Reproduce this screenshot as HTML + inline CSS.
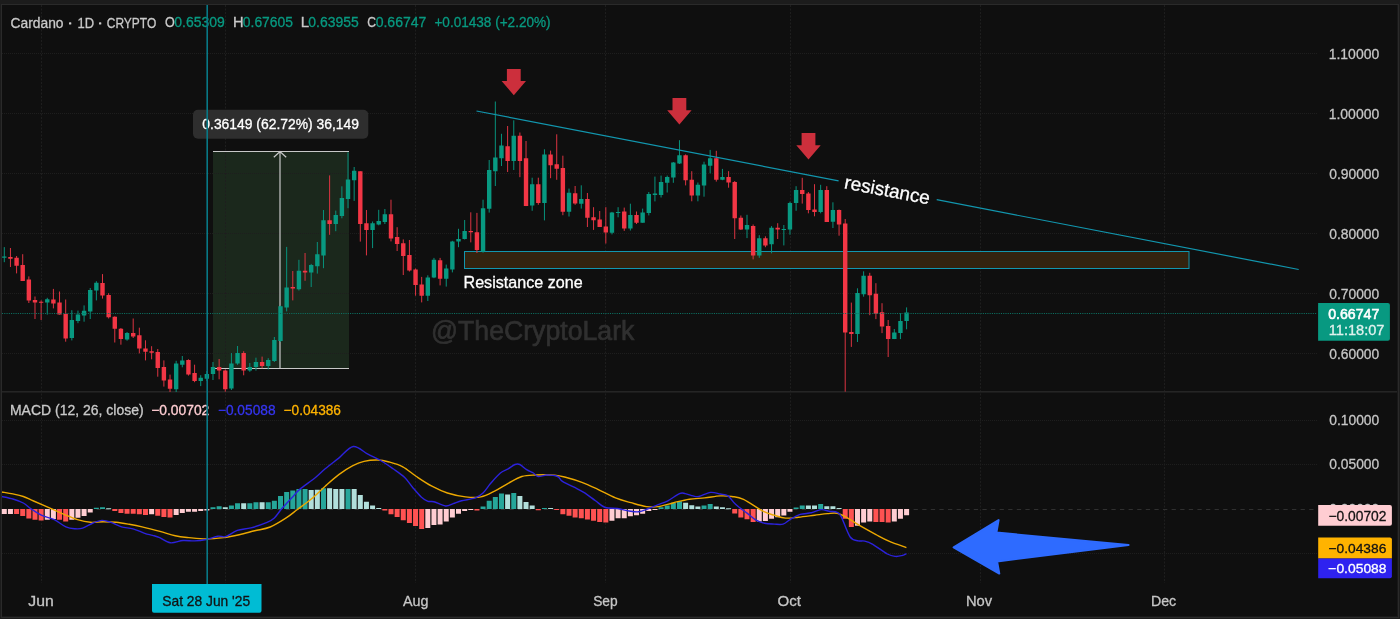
<!DOCTYPE html><html><head><meta charset="utf-8"><style>
html,body{margin:0;padding:0;width:1400px;height:619px;overflow:hidden;background:#232323;}
svg{display:block;will-change:transform;} text{font-family:"Liberation Sans", sans-serif;}
</style></head><body>
<svg width="1400" height="619" viewBox="0 0 1400 619">
<rect x="0" y="0" width="1400" height="619" fill="#1c1c1c"/>
<rect x="1" y="4" width="1398" height="614" fill="#2a2a2a"/>
<rect x="2" y="5" width="1396" height="612" fill="#181818"/>
<rect x="2" y="5" width="1395" height="611" fill="#0F0F0F"/>
<rect x="213" y="151" width="136" height="217" fill="#1b281c"/>
<path d="M2 53.5H1317M2 113.5H1317M2 173.5H1317M2 233.5H1317M2 293.5H1317M2 353.5H1317M2 420.5H1317M2 464.5H1317M2 553.5H1317" stroke="#1e1e1e" stroke-width="1" stroke-dasharray="1 1" fill="none"/>
<path d="M41.5 5V583M225.5 5V583M415.5 5V583M605.5 5V583M790.5 5V583M980.5 5V583M1164.5 5V583" stroke="#1e1e1e" stroke-width="1" stroke-dasharray="2 1.5" fill="none"/>
<rect x="2" y="391" width="1395" height="1.6" fill="#252525"/>
<path d="M2 509.5H1317" stroke="#303030" stroke-width="1" stroke-dasharray="4.3 4.3" fill="none"/>
<path d="M213 151.5H349M213 368.5H349M280 152V368M273.8 157.2L280 151.6L286.2 157.2" stroke="#c8c8c8" stroke-width="1.2" fill="none"/>
<rect x="464.5" y="251.5" width="724.5" height="17" fill="#33230f" stroke="#1296ae" stroke-width="1"/>
<path d="M4.30 247.10V262.20M47.27 297.80V314.60M71.82 310.20V340.40M77.96 310.60V323.20M84.09 305.40V321.70M90.23 288.00V319.00M96.37 281.20V300.40M127.06 332.00V340.70M176.16 360.80V392.00M182.30 356.00V367.30M200.72 375.20V386.10M206.85 371.00V381.00M212.99 362.00V380.00M231.41 353.00V390.00M237.54 346.00V364.80M249.82 363.00V371.80M255.96 357.70V370.60M268.23 358.20V369.40M274.37 337.00V362.00M280.51 305.70V341.80M286.65 246.90V311.40M298.92 259.80V290.50M311.20 263.90V287.00M317.34 242.00V273.60M323.48 210.00V268.20M335.75 210.60V231.20M341.89 186.30V218.30M348.03 152.40V208.20M354.17 167.00V200.90M372.58 221.50V248.10M378.72 209.80V225.30M384.86 209.00V224.00M427.82 275.30V301.00M433.96 257.90V278.20M446.24 264.60V286.60M452.37 240.80V272.40M458.51 228.80V247.20M464.65 220.00V239.50M483.06 199.70V252.70M489.20 160.00V212.60M495.34 101.50V186.00M501.48 133.80V166.00M513.75 120.30V170.00M532.17 177.70V210.80M544.44 149.30V220.40M569.00 188.60V216.50M581.27 185.30V208.60M611.96 211.90V234.40M618.10 207.20V217.30M630.38 203.70V230.50M642.65 208.60V222.70M648.79 192.00V215.40M654.93 176.60V201.40M661.07 175.60V197.50M667.20 175.60V192.50M673.34 162.00V182.80M679.48 140.20V164.00M697.89 182.50V201.30M704.03 161.70V196.70M710.17 149.90V173.40M722.45 168.90V180.20M747.00 214.80V238.10M759.27 235.20V257.80M771.55 226.10V253.30M783.83 225.00V245.40M789.96 201.70V234.70M796.10 186.20V210.80M820.65 184.80V213.30M832.93 202.30V228.00M857.48 288.30V342.00M863.62 271.30V296.70M894.31 329.00V339.10M900.45 313.10V339.10M906.59 307.40V329.30" stroke="#08927C" stroke-width="1" fill="none"/>
<path d="M2.10 256.60h4.4v1.20h-4.4zM45.07 299.20h4.4v3.40h-4.4zM69.62 320.00h4.4v18.10h-4.4zM75.76 314.60h4.4v6.30h-4.4zM81.89 310.70h4.4v4.80h-4.4zM88.03 290.10h4.4v21.30h-4.4zM94.17 282.70h4.4v7.90h-4.4zM124.86 333.00h4.4v6.60h-4.4zM173.96 363.60h4.4v25.60h-4.4zM180.10 360.40h4.4v4.30h-4.4zM198.52 377.80h4.4v3.20h-4.4zM204.65 374.00h4.4v4.80h-4.4zM210.79 367.00h4.4v7.00h-4.4zM229.21 363.60h4.4v25.00h-4.4zM235.34 353.00h4.4v10.60h-4.4zM247.62 367.00h4.4v3.60h-4.4zM253.76 362.00h4.4v5.00h-4.4zM266.03 360.00h4.4v6.00h-4.4zM272.17 340.00h4.4v21.00h-4.4zM278.31 306.20h4.4v34.70h-4.4zM284.45 287.50h4.4v19.90h-4.4zM296.72 270.70h4.4v18.60h-4.4zM309.00 265.00h4.4v7.40h-4.4zM315.14 254.20h4.4v12.10h-4.4zM321.28 220.30h4.4v35.10h-4.4zM333.55 215.00h4.4v9.00h-4.4zM339.69 198.00h4.4v18.00h-4.4zM345.83 179.60h4.4v19.40h-4.4zM351.97 170.80h4.4v9.50h-4.4zM370.38 223.20h4.4v6.80h-4.4zM376.52 221.00h4.4v3.50h-4.4zM382.66 214.20h4.4v7.80h-4.4zM425.62 277.60h4.4v18.10h-4.4zM431.76 259.80h4.4v17.80h-4.4zM444.04 268.50h4.4v10.30h-4.4zM450.17 241.40h4.4v28.10h-4.4zM456.31 238.90h4.4v2.50h-4.4zM462.45 231.10h4.4v7.80h-4.4zM480.86 208.20h4.4v43.20h-4.4zM487.00 170.00h4.4v38.70h-4.4zM493.14 157.50h4.4v13.70h-4.4zM499.28 145.40h4.4v12.90h-4.4zM511.55 135.80h4.4v25.20h-4.4zM529.97 184.20h4.4v21.40h-4.4zM542.24 154.40h4.4v48.60h-4.4zM566.80 192.70h4.4v19.10h-4.4zM579.07 198.90h4.4v4.80h-4.4zM609.76 212.40h4.4v20.40h-4.4zM615.90 211.90h4.4v1.10h-4.4zM628.18 215.00h4.4v13.50h-4.4zM640.45 212.40h4.4v10.30h-4.4zM646.59 194.00h4.4v19.00h-4.4zM652.73 193.60h4.4v1.40h-4.4zM658.87 182.00h4.4v13.00h-4.4zM665.00 177.00h4.4v5.80h-4.4zM671.14 162.60h4.4v14.90h-4.4zM677.28 155.30h4.4v8.20h-4.4zM695.69 184.70h4.4v10.90h-4.4zM701.83 164.40h4.4v21.00h-4.4zM707.97 158.30h4.4v7.40h-4.4zM720.25 177.00h4.4v2.80h-4.4zM744.80 225.00h4.4v4.50h-4.4zM757.07 238.20h4.4v17.30h-4.4zM769.35 227.70h4.4v16.50h-4.4zM781.63 228.90h4.4v1.00h-4.4zM787.76 203.00h4.4v26.40h-4.4zM793.90 190.00h4.4v13.00h-4.4zM818.45 190.00h4.4v22.00h-4.4zM830.73 210.00h4.4v11.70h-4.4zM855.28 293.00h4.4v41.00h-4.4zM861.42 275.70h4.4v18.60h-4.4zM892.11 332.60h4.4v6.50h-4.4zM898.25 321.10h4.4v12.00h-4.4zM904.39 312.50h4.4v8.60h-4.4z" fill="#089981"/>
<path d="M10.44 248.00V267.00M16.58 256.00V273.40M22.71 254.20V280.90M28.85 276.40V303.00M34.99 296.50V319.00M41.13 300.40V320.00M53.40 288.90V308.40M59.54 291.50V314.60M65.68 299.50V341.70M102.51 274.10V298.60M108.65 293.20V318.50M114.78 316.30V342.50M120.92 328.00V344.70M133.20 318.50V338.00M139.34 327.70V353.40M145.47 340.30V360.40M151.61 346.20V359.30M157.75 349.00V376.70M163.89 360.40V386.60M170.03 374.60V392.00M188.44 359.30V375.60M194.58 364.70V382.20M219.13 359.00V379.30M225.27 369.40V391.70M243.68 351.20V375.30M262.10 356.60V368.30M292.79 271.00V300.40M305.06 253.00V280.80M329.61 175.40V234.80M360.30 171.30V241.60M366.44 210.00V255.40M390.99 199.70V241.40M397.13 227.20V251.00M403.27 239.40V275.00M409.41 240.00V271.50M415.55 268.50V295.70M421.68 276.90V302.40M440.10 257.90V285.40M470.79 212.30V242.40M476.93 212.90V253.00M507.62 126.00V172.00M519.89 132.50V177.20M526.03 141.00V206.10M538.31 177.70V204.80M550.58 150.60V178.20M556.72 134.30V179.80M562.86 155.70V215.20M575.13 186.00V204.80M587.41 193.00V227.00M593.55 207.20V229.90M599.69 211.00V227.00M605.82 207.20V243.50M624.24 207.60V230.90M636.51 211.50V224.00M685.62 154.40V185.40M691.76 171.20V201.30M716.31 150.80V181.60M728.58 171.20V187.70M734.72 181.00V239.00M740.86 215.50V230.00M753.14 224.50V259.40M765.41 236.30V247.20M777.69 223.20V239.00M802.24 177.80V203.60M808.38 192.00V213.30M814.52 184.20V216.30M826.79 186.20V222.00M839.07 209.50V235.70M845.21 219.00V391.70M851.34 302.60V346.90M869.76 272.80V315.20M875.90 283.20V319.10M882.03 303.20V333.10M888.17 320.00V357.00" stroke="#DC3442" stroke-width="1" fill="none"/>
<path d="M8.24 256.90h4.4v1.80h-4.4zM14.38 257.80h4.4v8.00h-4.4zM20.51 264.90h4.4v16.00h-4.4zM26.65 279.50h4.4v20.90h-4.4zM32.79 299.90h4.4v2.70h-4.4zM38.93 301.70h4.4v1.00h-4.4zM51.20 299.50h4.4v4.10h-4.4zM57.34 302.60h4.4v12.00h-4.4zM63.48 313.70h4.4v24.90h-4.4zM100.31 283.00h4.4v12.40h-4.4zM106.45 294.90h4.4v22.30h-4.4zM112.58 316.70h4.4v12.00h-4.4zM118.72 328.70h4.4v10.30h-4.4zM131.00 333.00h4.4v3.40h-4.4zM137.14 335.30h4.4v13.10h-4.4zM143.27 348.40h4.4v3.30h-4.4zM149.41 351.20h4.4v1.50h-4.4zM155.55 352.10h4.4v15.90h-4.4zM161.69 367.00h4.4v13.50h-4.4zM167.83 379.60h4.4v9.20h-4.4zM186.24 360.00h4.4v14.60h-4.4zM192.38 373.00h4.4v8.00h-4.4zM216.93 367.00h4.4v3.60h-4.4zM223.07 370.60h4.4v18.70h-4.4zM241.48 353.00h4.4v17.60h-4.4zM259.90 362.00h4.4v4.00h-4.4zM290.59 287.00h4.4v1.60h-4.4zM302.86 270.70h4.4v1.70h-4.4zM327.41 220.30h4.4v3.60h-4.4zM358.10 171.30h4.4v52.70h-4.4zM364.24 223.20h4.4v6.80h-4.4zM388.79 214.20h4.4v24.30h-4.4zM394.93 237.00h4.4v7.00h-4.4zM401.07 243.30h4.4v12.70h-4.4zM407.21 255.00h4.4v15.50h-4.4zM413.35 269.50h4.4v15.50h-4.4zM419.48 284.60h4.4v11.10h-4.4zM437.90 260.20h4.4v18.60h-4.4zM468.59 231.10h4.4v1.20h-4.4zM474.73 232.30h4.4v17.80h-4.4zM505.42 146.20h4.4v14.80h-4.4zM517.69 135.80h4.4v25.20h-4.4zM523.83 158.30h4.4v47.80h-4.4zM536.11 184.20h4.4v18.80h-4.4zM548.38 154.40h4.4v10.90h-4.4zM554.52 164.30h4.4v4.40h-4.4zM560.66 167.90h4.4v43.90h-4.4zM572.93 193.20h4.4v10.40h-4.4zM585.21 198.90h4.4v18.80h-4.4zM591.35 217.30h4.4v2.90h-4.4zM597.49 219.60h4.4v7.40h-4.4zM603.62 226.60h4.4v5.80h-4.4zM622.04 211.50h4.4v17.00h-4.4zM634.31 215.00h4.4v7.70h-4.4zM683.42 155.30h4.4v24.90h-4.4zM689.56 179.80h4.4v15.80h-4.4zM714.11 158.30h4.4v21.50h-4.4zM726.38 177.00h4.4v5.50h-4.4zM732.52 182.00h4.4v36.20h-4.4zM738.66 217.80h4.4v11.70h-4.4zM750.94 226.10h4.4v29.40h-4.4zM763.21 238.20h4.4v7.20h-4.4zM775.49 227.70h4.4v1.80h-4.4zM800.04 190.00h4.4v4.00h-4.4zM806.18 193.40h4.4v16.60h-4.4zM812.32 209.50h4.4v2.50h-4.4zM824.59 190.00h4.4v32.00h-4.4zM836.87 210.00h4.4v14.40h-4.4zM843.01 223.40h4.4v109.10h-4.4zM849.14 332.00h4.4v2.00h-4.4zM867.56 275.70h4.4v19.50h-4.4zM873.70 293.70h4.4v20.30h-4.4zM879.83 312.20h4.4v14.40h-4.4zM885.97 326.00h4.4v13.10h-4.4z" fill="#F23645"/>
<path d="M2 313.5H1317" stroke="#0c7062" stroke-width="1" stroke-dasharray="1.1 1.16" fill="none"/>
<path d="M476.5 111.0L838.6 180.8M936.7 199.7L1298.7 269.5" stroke="#1296ae" stroke-width="1.2" fill="none"/>
<path d="M1.80 509.00h5v5.00h-5zM7.94 509.00h5v5.00h-5zM44.77 509.00h5v10.80h-5zM50.90 509.00h5v10.00h-5zM69.32 509.00h5v10.80h-5zM75.46 509.00h5v8.80h-5zM81.59 509.00h5v7.00h-5zM87.73 509.00h5v3.60h-5zM149.11 509.00h5v5.20h-5zM173.66 509.00h5v6.00h-5zM179.80 509.00h5v4.00h-5zM185.94 509.00h5v2.80h-5zM192.08 509.00h5v2.80h-5zM198.22 509.00h5v2.00h-5zM204.35 509.00h5v1.50h-5zM425.32 509.00h5v18.90h-5zM431.46 509.00h5v16.00h-5zM437.60 509.00h5v15.60h-5zM443.74 509.00h5v12.50h-5zM449.87 509.00h5v8.60h-5zM456.01 509.00h5v4.70h-5zM462.15 509.00h5v2.00h-5zM468.29 509.00h5v1.00h-5zM609.46 509.00h5v11.70h-5zM615.60 509.00h5v9.20h-5zM621.74 509.00h5v9.20h-5zM627.88 509.00h5v7.30h-5zM634.01 509.00h5v6.30h-5zM640.15 509.00h5v4.70h-5zM646.29 509.00h5v2.00h-5zM652.43 509.00h5v1.00h-5zM756.77 509.00h5v12.50h-5zM762.91 509.00h5v12.00h-5zM769.05 509.00h5v9.80h-5zM775.19 509.00h5v8.20h-5zM781.33 509.00h5v6.60h-5zM787.46 509.00h5v2.70h-5zM854.98 509.00h5v16.70h-5zM861.12 509.00h5v13.50h-5zM867.26 509.00h5v12.40h-5zM891.81 509.00h5v12.40h-5zM897.95 509.00h5v9.80h-5zM904.09 509.00h5v6.20h-5z" fill="#FFCDD2"/>
<path d="M14.08 509.00h5v5.00h-5zM20.21 509.00h5v7.00h-5zM26.35 509.00h5v9.50h-5zM32.49 509.00h5v10.80h-5zM38.63 509.00h5v11.40h-5zM57.04 509.00h5v10.80h-5zM63.18 509.00h5v12.40h-5zM112.28 509.00h5v2.00h-5zM118.42 509.00h5v3.90h-5zM124.56 509.00h5v4.70h-5zM130.70 509.00h5v4.70h-5zM136.84 509.00h5v5.20h-5zM142.97 509.00h5v6.00h-5zM155.25 509.00h5v6.80h-5zM161.39 509.00h5v7.90h-5zM167.53 509.00h5v8.60h-5zM382.36 509.00h5v1.50h-5zM388.49 509.00h5v5.30h-5zM394.63 509.00h5v7.90h-5zM400.77 509.00h5v11.20h-5zM406.91 509.00h5v14.10h-5zM413.05 509.00h5v17.00h-5zM419.18 509.00h5v19.90h-5zM474.43 509.00h5v1.50h-5zM535.81 509.00h5v1.30h-5zM554.22 509.00h5v1.00h-5zM560.36 509.00h5v5.30h-5zM566.50 509.00h5v6.70h-5zM572.63 509.00h5v8.60h-5zM578.77 509.00h5v9.20h-5zM584.91 509.00h5v10.60h-5zM591.05 509.00h5v11.70h-5zM597.19 509.00h5v13.10h-5zM603.32 509.00h5v13.40h-5zM732.22 509.00h5v4.40h-5zM738.36 509.00h5v8.60h-5zM744.50 509.00h5v10.20h-5zM750.64 509.00h5v13.10h-5zM842.71 509.00h5v9.80h-5zM848.84 509.00h5v17.90h-5zM873.40 509.00h5v13.00h-5zM879.53 509.00h5v13.00h-5zM885.67 509.00h5v13.50h-5z" fill="#FF5252"/>
<path d="M93.87 507.70h5v1.30h-5zM100.01 507.20h5v1.80h-5zM210.49 507.20h5v1.80h-5zM216.63 506.20h5v2.80h-5zM228.91 505.60h5v3.40h-5zM235.04 503.30h5v5.70h-5zM247.32 503.30h5v5.70h-5zM253.46 502.30h5v6.70h-5zM265.73 502.30h5v6.70h-5zM271.87 500.80h5v8.20h-5zM278.01 495.90h5v13.10h-5zM284.15 492.00h5v17.00h-5zM290.29 490.50h5v18.50h-5zM296.42 489.10h5v19.90h-5zM302.56 489.10h5v19.90h-5zM320.98 488.20h5v20.80h-5zM345.53 489.10h5v19.90h-5zM480.56 506.60h5v2.40h-5zM486.70 500.80h5v8.20h-5zM492.84 496.90h5v12.10h-5zM498.98 493.60h5v15.40h-5zM511.25 493.00h5v16.00h-5zM541.94 508.10h5v1.00h-5zM658.57 507.20h5v1.80h-5zM664.70 505.60h5v3.40h-5zM670.84 502.70h5v6.30h-5zM676.98 501.30h5v7.70h-5zM701.53 505.60h5v3.40h-5zM707.67 504.10h5v4.90h-5zM793.60 507.50h5v1.50h-5zM799.74 505.50h5v3.50h-5zM818.15 504.00h5v5.00h-5z" fill="#26A69A"/>
<path d="M106.15 508.30h5v1.00h-5zM222.77 507.20h5v1.80h-5zM241.18 503.30h5v5.70h-5zM259.60 502.30h5v6.70h-5zM308.70 490.10h5v18.90h-5zM314.84 489.70h5v19.30h-5zM327.11 488.20h5v20.80h-5zM333.25 489.10h5v19.90h-5zM339.39 489.10h5v19.90h-5zM351.67 489.10h5v19.90h-5zM357.80 495.00h5v14.00h-5zM363.94 501.70h5v7.30h-5zM370.08 505.60h5v3.40h-5zM376.22 507.90h5v1.10h-5zM505.12 494.60h5v14.40h-5zM517.39 495.90h5v13.10h-5zM523.53 502.10h5v6.90h-5zM529.67 505.60h5v3.40h-5zM548.08 508.10h5v1.00h-5zM683.12 502.70h5v6.30h-5zM689.26 505.20h5v3.80h-5zM695.39 506.60h5v2.40h-5zM713.81 506.60h5v2.40h-5zM719.95 507.20h5v1.80h-5zM726.08 508.30h5v1.00h-5zM805.88 505.50h5v3.50h-5zM812.02 505.50h5v3.50h-5zM824.29 506.30h5v2.70h-5zM830.43 506.30h5v2.70h-5zM836.57 508.00h5v1.00h-5z" fill="#B2DFDB"/>
<path d="M2.00 492.00C3.82 492.32 9.35 493.15 12.90 493.90C16.45 494.65 19.85 495.32 23.30 496.50C26.75 497.68 28.87 498.95 33.60 501.00C38.33 503.05 46.53 506.53 51.70 508.80C56.87 511.07 60.30 512.78 64.60 514.60C68.90 516.42 73.20 518.42 77.50 519.70C81.80 520.98 86.08 521.97 90.40 522.30C94.72 522.63 99.08 521.70 103.40 521.70C107.72 521.70 112.00 521.87 116.30 522.30C120.60 522.73 124.90 523.53 129.20 524.30C133.50 525.07 136.97 525.72 142.10 526.90C147.23 528.08 154.48 529.93 160.00 531.40C165.52 532.87 170.40 534.67 175.20 535.70C180.00 536.73 183.63 537.05 188.80 537.60C193.97 538.15 200.38 539.00 206.20 539.00C212.02 539.00 218.20 538.32 223.70 537.60C229.20 536.88 234.03 535.83 239.20 534.70C244.37 533.57 249.53 532.08 254.70 530.80C259.87 529.52 265.02 529.10 270.20 527.00C275.38 524.90 281.27 521.12 285.80 518.20C290.33 515.28 293.10 512.73 297.40 509.50C301.70 506.27 306.97 502.68 311.60 498.80C316.23 494.92 320.67 490.23 325.20 486.20C329.73 482.17 334.27 477.98 338.80 474.60C343.33 471.22 348.20 468.10 352.40 465.90C356.60 463.70 359.80 462.38 364.00 461.40C368.20 460.42 373.40 459.90 377.60 460.00C381.80 460.10 385.00 460.87 389.20 462.00C393.40 463.13 398.27 464.38 402.80 466.80C407.33 469.22 411.55 473.27 416.40 476.50C421.25 479.73 426.73 483.45 431.90 486.20C437.07 488.95 441.80 491.22 447.40 493.00C453.00 494.78 459.90 496.25 465.50 496.90C471.10 497.55 476.15 497.87 481.00 496.90C485.85 495.93 490.07 493.37 494.60 491.10C499.13 488.83 503.67 485.73 508.20 483.30C512.73 480.87 517.28 477.88 521.80 476.50C526.32 475.12 529.82 475.22 535.30 475.00C540.78 474.78 549.52 474.78 554.70 475.20C559.88 475.62 561.87 476.32 566.40 477.50C570.93 478.68 576.73 480.37 581.90 482.30C587.07 484.23 591.80 486.50 597.40 489.10C603.00 491.70 609.90 495.63 615.50 497.90C621.10 500.17 625.83 501.25 631.00 502.70C636.17 504.15 641.97 505.95 646.50 506.60C651.03 507.25 653.67 507.25 658.20 506.60C662.73 505.95 668.53 503.93 673.70 502.70C678.87 501.47 684.03 500.00 689.20 499.20C694.37 498.40 699.53 498.45 704.70 497.90C709.87 497.35 715.67 496.13 720.20 495.90C724.73 495.67 728.02 495.92 731.90 496.50C735.78 497.08 738.33 496.95 743.50 499.40C748.67 501.85 757.78 508.57 762.90 511.20C768.02 513.83 770.43 514.05 774.20 515.20C777.97 516.35 781.45 517.77 785.50 518.10C789.55 518.43 793.65 517.68 798.50 517.20C803.35 516.72 809.77 515.80 814.60 515.20C819.43 514.60 823.73 513.92 827.50 513.60C831.27 513.28 833.97 512.62 837.20 513.30C840.43 513.98 843.12 515.63 846.90 517.70C850.68 519.77 855.05 522.88 859.90 525.70C864.75 528.52 871.17 532.03 876.00 534.60C880.83 537.17 883.83 538.93 888.90 541.10C893.97 543.27 903.48 546.52 906.40 547.60" stroke="#ECA800" stroke-width="1.4" fill="none" stroke-linejoin="round"/>
<path d="M2.00 496.50C3.82 496.92 9.35 497.92 12.90 499.00C16.45 500.08 20.28 501.37 23.30 503.00C26.32 504.63 28.00 506.77 31.00 508.80C34.00 510.83 37.42 513.38 41.30 515.20C45.18 517.02 50.20 517.75 54.30 519.70C58.40 521.65 62.45 525.38 65.90 526.90C69.35 528.42 72.20 528.58 75.00 528.80C77.80 529.02 79.70 529.17 82.70 528.20C85.70 527.23 89.78 524.30 93.00 523.00C96.22 521.70 99.00 520.52 102.00 520.40C105.00 520.28 107.75 521.22 111.00 522.30C114.25 523.38 117.83 525.82 121.50 526.90C125.17 527.98 129.13 527.73 133.00 528.80C136.87 529.87 141.45 532.22 144.70 533.30C147.95 534.38 150.00 534.58 152.50 535.30C155.00 536.02 156.72 536.35 159.70 537.60C162.68 538.85 166.52 542.32 170.40 542.80C174.28 543.28 178.97 540.82 183.00 540.50C187.03 540.18 190.73 541.07 194.60 540.90C198.47 540.73 202.32 540.28 206.20 539.50C210.08 538.72 214.67 536.68 217.90 536.20C221.13 535.72 222.37 537.57 225.60 536.60C228.83 535.63 233.08 531.85 237.30 530.40C241.52 528.95 246.05 529.18 250.90 527.90C255.75 526.62 262.53 524.32 266.40 522.70C270.27 521.08 271.52 520.57 274.10 518.20C276.68 515.83 278.67 512.22 281.90 508.50C285.13 504.78 290.48 499.13 293.50 495.90C296.52 492.67 296.33 492.17 300.00 489.10C303.67 486.03 311.30 480.88 315.50 477.50C319.70 474.12 321.32 472.03 325.20 468.80C329.08 465.57 334.12 461.82 338.80 458.10C343.48 454.38 348.45 447.15 353.30 446.50C358.15 445.85 363.20 451.78 367.90 454.20C372.60 456.62 377.30 458.57 381.50 461.00C385.70 463.43 389.23 466.05 393.10 468.80C396.97 471.55 401.47 474.43 404.70 477.50C407.93 480.57 409.75 483.97 412.50 487.20C415.25 490.43 418.62 494.55 421.20 496.90C423.78 499.25 425.90 500.50 428.00 501.30C430.10 502.10 430.88 500.92 433.80 501.70C436.72 502.48 442.27 505.67 445.50 506.00C448.73 506.33 450.52 504.57 453.20 503.70C455.88 502.83 457.93 501.77 461.60 500.80C465.27 499.83 471.63 499.20 475.20 497.90C478.77 496.60 480.42 495.43 483.00 493.00C485.58 490.57 487.80 486.63 490.70 483.30C493.60 479.97 497.48 475.42 500.40 473.00C503.32 470.58 505.77 470.22 508.20 468.80C510.63 467.38 513.07 465.22 515.00 464.50C516.93 463.78 517.87 463.63 519.80 464.50C521.73 465.37 524.33 468.28 526.60 469.70C528.87 471.12 531.47 471.87 533.40 473.00C535.33 474.13 535.93 476.17 538.20 476.50C540.47 476.83 543.77 475.00 547.00 475.00C550.23 475.00 555.02 475.43 557.60 476.50C560.18 477.57 559.75 479.62 562.50 481.40C565.25 483.18 570.55 485.37 574.10 487.20C577.65 489.03 580.23 490.13 583.80 492.40C587.37 494.67 591.93 498.28 595.50 500.80C599.07 503.32 601.53 506.22 605.20 507.50C608.87 508.78 613.52 507.92 617.50 508.50C621.48 509.08 625.55 510.45 629.10 511.00C632.65 511.55 635.57 512.22 638.80 511.80C642.03 511.38 645.27 509.70 648.50 508.50C651.73 507.30 654.97 505.88 658.20 504.60C661.43 503.32 664.35 502.63 667.90 500.80C671.45 498.97 676.60 494.80 679.50 493.60C682.40 492.40 683.03 493.22 685.30 493.60C687.57 493.98 690.83 495.42 693.10 495.90C695.37 496.38 696.00 497.08 698.90 496.50C701.80 495.92 706.95 492.82 710.50 492.40C714.05 491.98 717.28 493.42 720.20 494.00C723.12 494.58 725.40 494.13 728.00 495.90C730.60 497.67 732.57 501.68 735.80 504.60C739.03 507.52 744.17 510.90 747.40 513.40C750.63 515.90 752.35 517.95 755.20 519.60C758.05 521.25 761.33 522.55 764.50 523.30C767.67 524.05 771.10 523.97 774.20 524.10C777.30 524.23 780.40 524.90 783.10 524.10C785.80 523.30 787.57 520.92 790.40 519.30C793.23 517.68 796.60 515.48 800.10 514.40C803.60 513.32 807.90 513.60 811.40 512.80C814.90 512.00 818.13 509.87 821.10 509.60C824.07 509.33 826.52 510.75 829.20 511.20C831.88 511.65 835.18 511.37 837.20 512.30C839.22 513.23 839.13 512.68 841.30 516.80C843.47 520.92 847.38 533.00 850.20 537.00C853.02 541.00 855.78 540.12 858.20 540.80C860.62 541.48 862.27 540.52 864.70 541.10C867.13 541.68 869.03 542.15 872.80 544.30C876.57 546.45 883.53 551.98 887.30 554.00C891.07 556.02 892.97 556.13 895.40 556.40C897.83 556.67 900.07 556.05 901.90 555.60C903.73 555.15 905.65 554.02 906.40 553.70" stroke="#2C22DC" stroke-width="1.4" fill="none" stroke-linejoin="round"/>
<path d="M506.9 69.0H520.7V81.0H526.0L513.8 95.2L501.6 81.0H506.9ZM672.5 98.1H686.3V110.2H691.6L679.4 124.6L667.2 110.2H672.5ZM801.6 133.1H815.4V145.2H820.7L808.5 159.6L796.3 145.2H801.6Z" fill="#CC2F3C"/>
<path d="M953.6 547.4L998.6 520L996.4 532.6L1128.6 545L997.1 561.4L999.3 573.6Z" fill="#2E6BFF" stroke="#2E6BFF" stroke-width="2" stroke-linejoin="round"/>
<text x="463.51" y="287.50" font-size="16.52" fill="#FFFFFF" textLength="119.17" lengthAdjust="spacingAndGlyphs" stroke="#FFFFFF" stroke-width="0.30">Resistance zone</text>
<text x="430.97" y="340.40" font-size="28.55" fill="#303030" textLength="203.41" lengthAdjust="spacingAndGlyphs" stroke="#303030" stroke-width="0.7">@TheCryptoLark</text>
<g transform="translate(843.6 188.2) rotate(10.9)"><text x="0" y="0" font-size="19" fill="#FFFFFF" stroke="#FFFFFF" stroke-width="0.3">resistance</text></g>
<rect x="193" y="109.7" width="175.3" height="29" rx="5" fill="#2e2e2e"/>
<text x="202.34" y="129.30" font-size="14.49" fill="#FFFFFF" textLength="156.61" lengthAdjust="spacingAndGlyphs" stroke="#FFFFFF" stroke-width="0.30">0.36149 (62.72%) 36,149</text>
<text x="10.51" y="27.50" font-size="14.64" fill="#C9C9C9" textLength="53.06" lengthAdjust="spacingAndGlyphs" stroke="#C9C9C9" stroke-width="0.30">Cardano</text>
<text x="77.43" y="27.50" font-size="14.64" fill="#C9C9C9" textLength="16.60" lengthAdjust="spacingAndGlyphs" stroke="#C9C9C9" stroke-width="0.30">1D</text>
<text x="106.80" y="27.50" font-size="14.64" fill="#C9C9C9" textLength="49.45" lengthAdjust="spacingAndGlyphs" stroke="#C9C9C9" stroke-width="0.30">CRYPTO</text>
<rect x="69" y="22.2" width="2.3" height="2.3" rx="0.6" fill="#C9C9C9"/><rect x="99" y="22.2" width="2.3" height="2.3" rx="0.6" fill="#C9C9C9"/>
<text x="164.94" y="27.40" font-size="14.35" fill="#C9C9C9" textLength="9.77" lengthAdjust="spacingAndGlyphs" stroke="#C9C9C9" stroke-width="0.30">O</text>
<text x="174.24" y="27.40" font-size="14.35" fill="#089981" textLength="50.48" lengthAdjust="spacingAndGlyphs" stroke="#089981" stroke-width="0.30">0.65309</text>
<text x="232.93" y="27.40" font-size="14.35" fill="#C9C9C9" textLength="10.57" lengthAdjust="spacingAndGlyphs" stroke="#C9C9C9" stroke-width="0.30">H</text>
<text x="242.85" y="27.40" font-size="14.35" fill="#089981" textLength="50.11" lengthAdjust="spacingAndGlyphs" stroke="#089981" stroke-width="0.30">0.67605</text>
<text x="300.80" y="27.40" font-size="14.35" fill="#C9C9C9" textLength="8.37" lengthAdjust="spacingAndGlyphs" stroke="#C9C9C9" stroke-width="0.30">L</text>
<text x="308.34" y="27.40" font-size="14.35" fill="#089981" textLength="50.41" lengthAdjust="spacingAndGlyphs" stroke="#089981" stroke-width="0.30">0.63955</text>
<text x="367.29" y="27.40" font-size="14.35" fill="#C9C9C9" textLength="8.76" lengthAdjust="spacingAndGlyphs" stroke="#C9C9C9" stroke-width="0.30">C</text>
<text x="375.64" y="27.40" font-size="14.35" fill="#089981" textLength="50.76" lengthAdjust="spacingAndGlyphs" stroke="#089981" stroke-width="0.30">0.66747</text>
<text x="434.42" y="27.40" font-size="14.35" fill="#089981" textLength="116.22" lengthAdjust="spacingAndGlyphs" stroke="#089981" stroke-width="0.30">+0.01438 (+2.20%)</text>
<text x="9.98" y="415.20" font-size="14.06" fill="#C9C9C9" textLength="133.71" lengthAdjust="spacingAndGlyphs" stroke="#C9C9C9" stroke-width="0.30">MACD (12, 26, close)</text>
<text x="151.21" y="415.10" font-size="14.06" fill="#FFCDD2" textLength="58.07" lengthAdjust="spacingAndGlyphs" stroke="#FFCDD2" stroke-width="0.30">−0.00702</text>
<text x="217.91" y="415.10" font-size="14.06" fill="#3535F0" textLength="57.62" lengthAdjust="spacingAndGlyphs" stroke="#3535F0" stroke-width="0.30">−0.05088</text>
<text x="283.62" y="415.10" font-size="14.06" fill="#FFB300" textLength="57.31" lengthAdjust="spacingAndGlyphs" stroke="#FFB300" stroke-width="0.30">−0.04386</text>
<text x="1328.70" y="58.75" font-size="15.22" fill="#C6C6C6" textLength="50.54" lengthAdjust="spacingAndGlyphs" stroke="#C6C6C6" stroke-width="0.30">1.10000</text>
<text x="1328.70" y="118.75" font-size="15.22" fill="#C6C6C6" textLength="50.54" lengthAdjust="spacingAndGlyphs" stroke="#C6C6C6" stroke-width="0.30">1.00000</text>
<text x="1329.20" y="178.75" font-size="15.22" fill="#C6C6C6" textLength="50.04" lengthAdjust="spacingAndGlyphs" stroke="#C6C6C6" stroke-width="0.30">0.90000</text>
<text x="1329.20" y="238.75" font-size="15.22" fill="#C6C6C6" textLength="50.04" lengthAdjust="spacingAndGlyphs" stroke="#C6C6C6" stroke-width="0.30">0.80000</text>
<text x="1329.20" y="298.75" font-size="15.22" fill="#C6C6C6" textLength="50.04" lengthAdjust="spacingAndGlyphs" stroke="#C6C6C6" stroke-width="0.30">0.70000</text>
<text x="1329.20" y="358.75" font-size="15.22" fill="#C6C6C6" textLength="50.04" lengthAdjust="spacingAndGlyphs" stroke="#C6C6C6" stroke-width="0.30">0.60000</text>
<text x="1329.20" y="425.15" font-size="15.22" fill="#C6C6C6" textLength="50.04" lengthAdjust="spacingAndGlyphs" stroke="#C6C6C6" stroke-width="0.30">0.10000</text>
<text x="1329.20" y="469.45" font-size="15.22" fill="#C6C6C6" textLength="50.04" lengthAdjust="spacingAndGlyphs" stroke="#C6C6C6" stroke-width="0.30">0.05000</text>
<path d="M1318.1 302.9H1387.9Q1389.9 302.9 1389.9 304.9V338.7Q1389.9 340.7 1387.9 340.7H1318.1Z" fill="#089981"/>
<text x="1328.13" y="318.50" font-size="14.64" fill="#FFFFFF" textLength="51.17" lengthAdjust="spacingAndGlyphs" stroke="#FFFFFF" stroke-width="0.60">0.66747</text>
<text x="1328.81" y="334.90" font-size="14.20" fill="#E0F2EE" textLength="55.67" lengthAdjust="spacingAndGlyphs" stroke="#E0F2EE" stroke-width="0.30">11:18:07</text>
<text x="1329.20" y="514.25" font-size="15.22" fill="#C6C6C6" textLength="50.04" lengthAdjust="spacingAndGlyphs" stroke="#C6C6C6" stroke-width="0.30">0.00000</text>
<path d="M1318.2 504.9H1389.9Q1391.9 504.9 1391.9 506.9V523.8Q1391.9 525.8 1389.9 525.8H1318.2Z" fill="#FFCDD2"/>
<text x="1328.51" y="520.70" font-size="14.06" fill="#131313" textLength="57.96" lengthAdjust="spacingAndGlyphs" stroke="#131313" stroke-width="0.30">−0.00702</text>
<path d="M1318.2 537.5H1389.9Q1391.9 537.5 1391.9 539.5V558.4H1318.2Z" fill="#FFB300"/>
<text x="1328.51" y="553.00" font-size="13.19" fill="#131313" textLength="57.82" lengthAdjust="spacingAndGlyphs" stroke="#131313" stroke-width="0.30">−0.04386</text>
<path d="M1318.2 558.4H1391.9V576.2Q1391.9 578.2 1389.9 578.2H1318.2Z" fill="#2E22F0"/>
<text x="1328.31" y="572.60" font-size="13.48" fill="#FFFFFF" textLength="58.23" lengthAdjust="spacingAndGlyphs" stroke="#FFFFFF" stroke-width="0.30">−0.05088</text>
<text x="28.36" y="606.30" font-size="14.93" fill="#C6C6C6" textLength="25.40" lengthAdjust="spacingAndGlyphs" stroke="#C6C6C6" stroke-width="0.30">Jun</text>
<text x="402.90" y="606.30" font-size="14.93" fill="#C6C6C6" textLength="25.52" lengthAdjust="spacingAndGlyphs" stroke="#C6C6C6" stroke-width="0.30">Aug</text>
<text x="593.18" y="606.30" font-size="14.93" fill="#C6C6C6" textLength="24.46" lengthAdjust="spacingAndGlyphs" stroke="#C6C6C6" stroke-width="0.30">Sep</text>
<text x="777.52" y="606.30" font-size="14.93" fill="#C6C6C6" textLength="23.46" lengthAdjust="spacingAndGlyphs" stroke="#C6C6C6" stroke-width="0.30">Oct</text>
<text x="965.92" y="606.30" font-size="14.93" fill="#C6C6C6" textLength="26.23" lengthAdjust="spacingAndGlyphs" stroke="#C6C6C6" stroke-width="0.30">Nov</text>
<text x="1150.96" y="606.30" font-size="14.93" fill="#C6C6C6" textLength="25.27" lengthAdjust="spacingAndGlyphs" stroke="#C6C6C6" stroke-width="0.30">Dec</text>
<path d="M152 584H261.5V610.7Q261.5 612.7 259.5 612.7H154Q152 612.7 152 610.7Z" fill="#00BCD4"/>
<text x="162.28" y="605.80" font-size="14.20" fill="#131313" textLength="87.81" lengthAdjust="spacingAndGlyphs" stroke="#131313" stroke-width="0.30">Sat 28 Jun '25</text>
<path d="M207.2 5V584" stroke="#087886" stroke-width="1.6"/>
</svg></body></html>
